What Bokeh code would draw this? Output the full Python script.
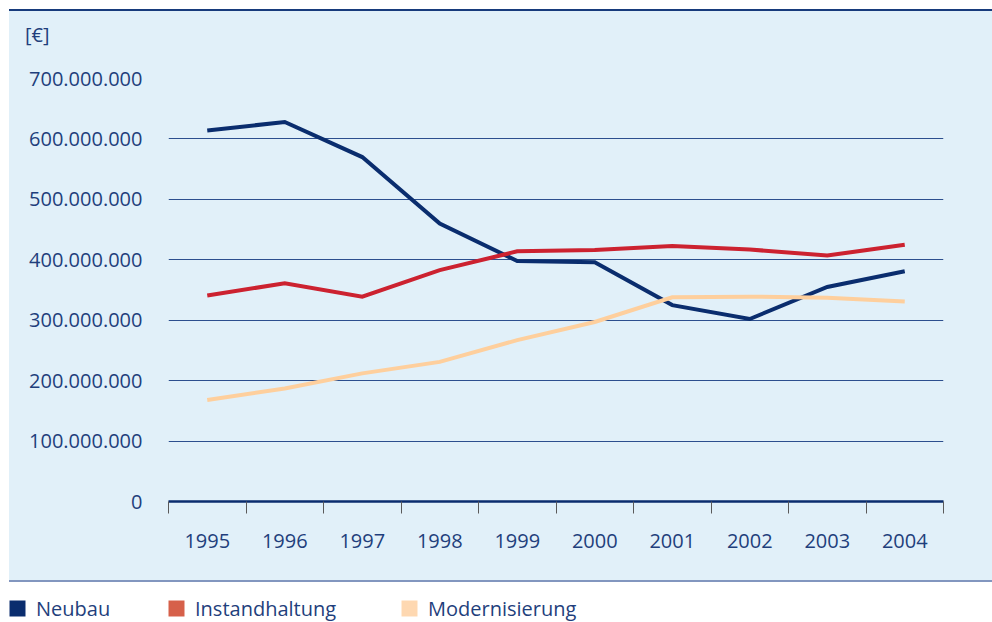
from bokeh.plotting import figure
from bokeh.models import (Range1d, LinearAxis, FixedTicker, Grid, Legend, LegendItem, Spacer, Div)
from bokeh.layouts import column, row
from bokeh.embed import file_html
from bokeh.resources import INLINE

# ---- data ----
years = ["1995", "1996", "1997", "1998", "1999", "2000", "2001", "2002", "2003", "2004"]
neubau = [614e6, 628e6, 570e6, 460e6, 398e6, 396e6, 325e6, 302e6, 355e6, 381e6]
instandhaltung = [341e6, 361e6, 339e6, 383e6, 414e6, 416e6, 423e6, 417e6, 407e6, 425e6]
modernisierung = [168e6, 187e6, 212e6, 231e6, 267e6, 297e6, 338e6, 339e6, 337e6, 331e6]
y_ticks = [0, 100e6, 200e6, 300e6, 400e6, 500e6, 600e6, 700e6]
y_tick_labels = ["0", "100.000.000", "200.000.000", "300.000.000", "400.000.000",
                 "500.000.000", "600.000.000", "700.000.000"]
series_names = ["Neubau", "Instandhaltung", "Modernisierung"]
line_colors = ["#0a2d6e", "#cc2230", "#fecf9d"]
legend_colors = ["#0a2d6e", "#d6604a", "#fed8b1"]
unit_label = "[€]"

FONT = "Open Sans"
TEXT = "#1f3f7c"
PANEL = "#e1f0f9"

n = len(years)
xs = [i + 0.5 for i in range(n)]


def strip(w, h, color):
    return Div(text="", width=w, height=h, margin=0,
               styles={"background-color": color, "width": f"{w}px", "height": f"{h}px"})


def blank(w, h, color, yr=(0, 1)):
    f = figure(width=w, height=h, x_range=Range1d(0, 1), y_range=Range1d(*yr),
               output_backend="svg", toolbar_location=None, x_axis_type=None,
               y_axis_type=None, min_border=0)
    f.border_fill_color = color
    f.background_fill_color = color
    f.outline_line_color = None
    return f


# ---- unit header (the unit is drawn as the single label of a left axis) ----
top = blank(983, 49, PANEL, yr=(0, 49))
uaxis = LinearAxis(ticker=FixedTicker(ticks=[26]))
uaxis.major_label_overrides = {26: unit_label}
uaxis.axis_line_color = None
uaxis.major_tick_line_color = None
uaxis.minor_tick_line_color = None
uaxis.major_label_standoff = 113
uaxis.major_label_text_font = FONT
uaxis.major_label_text_font_size = "20px"
uaxis.major_label_text_color = TEXT
top.add_layout(uaxis, "left")

# ---- main chart panel ----
p = figure(width=983, height=520, x_range=Range1d(0, n), y_range=Range1d(0, 700e6),
           output_backend="svg", toolbar_location=None,
           x_axis_type=None, y_axis_type=None,
           min_border_left=159, min_border_right=49, min_border_top=18, min_border_bottom=79)
p.border_fill_color = PANEL
p.background_fill_color = PANEL
p.outline_line_color = None

# y axis
yticker = FixedTicker(ticks=y_ticks)
yaxis = LinearAxis(ticker=yticker)
yaxis.major_label_overrides = {t: l for t, l in zip(y_ticks, y_tick_labels)}
yaxis.axis_line_color = None
yaxis.major_tick_line_color = None
yaxis.minor_tick_line_color = None
yaxis.major_label_standoff = 20
yaxis.major_label_text_font = FONT
yaxis.major_label_text_font_size = "20px"
yaxis.major_label_text_color = TEXT
p.add_layout(yaxis, "left")

p.add_layout(Grid(dimension=1, ticker=yticker, grid_line_color="#2c4f8e", grid_line_width=1))

# x axis: labels at category centres, ticks at category boundaries
xticker = FixedTicker(ticks=xs, minor_ticks=list(range(n + 1)))
xaxis = LinearAxis(ticker=xticker)
xaxis.major_label_overrides = {x: y for x, y in zip(xs, years)}
xaxis.major_tick_out = 0
xaxis.major_tick_in = 0
xaxis.major_tick_line_color = None
xaxis.minor_tick_out = 12
xaxis.minor_tick_in = 0
xaxis.minor_tick_line_color = "#5a5a5a"
xaxis.minor_tick_line_width = 1
xaxis.axis_line_color = "#0a2d6e"
xaxis.axis_line_width = 2.5
xaxis.major_label_standoff = 20
xaxis.major_label_text_font = FONT
xaxis.major_label_text_font_size = "20px"
xaxis.major_label_text_color = TEXT
p.add_layout(xaxis, "below")

for vals, col in zip([neubau, instandhaltung, modernisierung], line_colors):
    p.line(x=xs, y=vals, line_width=4, line_color=col, line_join="miter")

# ---- legend strip ----
lf = blank(992, 40, "white")
legend_x = [7, 166, 399]
for name, col, lx in zip(series_names, legend_colors, legend_x):
    # zero-size swatch renderer: provides the legend glyph only
    r = lf.quad(left=[0], right=[0], top=[0], bottom=[0], fill_color=col, line_color=None)
    lg = Legend(items=[LegendItem(label=name, renderers=[r])], location=(lx, 0.5),
                orientation="horizontal", padding=0, spacing=0, margin=0,
                glyph_width=20, glyph_height=20, label_standoff=9,
                border_line_color=None, background_fill_alpha=0,
                label_text_font=FONT, label_text_font_size="20px", label_text_color=TEXT,
                label_text_baseline="alphabetic")
    lf.add_layout(lg)

inner = column(strip(983, 2, "#173b7c"), top, p, styles={"background-color": PANEL})
layout = column(
    Spacer(width=992, height=9),
    row(Spacer(width=9, height=571), inner),
    row(Spacer(width=9, height=2), strip(983, 2, "#8296bf")),
    lf,
)

open("out.html", "w").write(file_html(layout, INLINE))
